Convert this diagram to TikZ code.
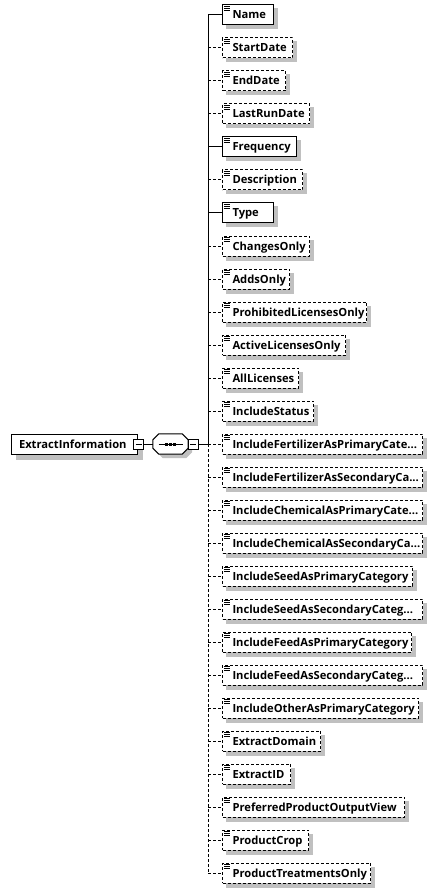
\documentclass[tikz,border=0pt]{standalone}
\usepackage{fontspec}
\setmainfont{Open Sans}
\usetikzlibrary{positioning,backgrounds}
\definecolor{shadowgray}{RGB}{192,192,192}
\newcommand{\elide}{...}
\newcommand{\octagonpath}[1]{([xshift=6pt]#1.north west) -- ([xshift=-6pt]#1.north east) -- ([yshift=-6pt]#1.north east) -- ([yshift=6pt]#1.south east) -- ([xshift=-6pt]#1.south east) -- ([xshift=6pt]#1.south west) -- ([yshift=6pt]#1.south west) -- ([yshift=-6pt]#1.north west) -- cycle}
\tikzset{
    xsdbase/.style={draw, line width=1pt, fill=white, font=\fontsize{11.2}{13}\selectfont\bfseries, text height=10pt, text depth=2pt, minimum height=20pt, align=left},
    elemicon/.style={path picture={\foreach \dy in {1.6,3.3,5} \draw[solid, line width=0.7pt] ([xshift=1.5pt, yshift=-\dy pt]path picture bounding box.north west) -- ++(6pt,0);}},
    elembox/.style={xsdbase, elemicon, anchor=west, inner xsep=10pt},
    elemreq/.style={elembox},
    elemopt/.style={elembox, dash pattern=on 3pt off 2pt},
    linkreq/.style={line width=1pt},
    linkopt/.style={line width=1pt, dash pattern=on 3pt off 2pt},
    shadowfill/.style={fill=shadowgray, draw=none},
    minusbox/.style={draw, line width=1pt, fill=white, minimum size=10pt, inner sep=0pt, path picture={\draw[line width=1pt] ([xshift=-3pt]path picture bounding box.center) -- ([xshift=3pt]path picture bounding box.center);}},
    seqframe/.style={minimum width=35pt, minimum height=20pt, inner sep=0pt}
}
\begin{document}
\begin{tikzpicture}[x=1pt, y=-1pt]
    \useasboundingbox (0,0) rectangle (438,893);
    % root element and sequence compositor
    \node[xsdbase, inner xsep=8pt, text width=110pt] (root) at (74,444) {ExtractInformation};
    \node[seqframe] (seq) at (170.5,444) {};
    \node[seqframe] (seqshadow) at (174.5,448) {};
    \begin{scope}[on background layer]
        \fill[shadowfill] ([shift={(5,5)}]root.north west) rectangle ([shift={(5,5)}]root.south east);
        \fill[shadowfill] \octagonpath{seqshadow};
    \end{scope}
    \filldraw[line width=1pt, fill=white] \octagonpath{seq};
    \node[minusbox] (rootminus) at ([xshift=1pt]root.east) {};
    \node[minusbox] (seqminus) at (193,444) {};
    \coordinate (spine) at (208,444);
    \draw[linkreq] (rootminus) -- (seq);
    \draw[linkreq] (seqminus) -- (spine);
    \draw[line width=1pt] ([xshift=-12pt]seq.center) -- ([xshift=12pt]seq.center);
    \foreach \d in {-4,0,4}
        \fill ([xshift=\d pt]seq.center) +(-1.2,-1.5) rectangle +(1.2,1.5);
    % child elements
    \foreach \lbl/\w/\kind [count=\i from 0, evaluate=\w as \tw using \w-20] in {Name/51/req, StartDate/70/opt, EndDate/63/opt, LastRunDate/87/opt, Frequency/74/req, Description/80/opt, Type/51/req, ChangesOnly/87/opt, AddsOnly/67/opt, ProhibitedLicensesOnly/144/opt, ActiveLicensesOnly/123/opt, AllLicenses/76/opt, IncludeStatus/91/opt, IncludeFertilizerAsPrimaryCate\elide/200/opt, IncludeFertilizerAsSecondaryCa\elide/200/opt, IncludeChemicalAsPrimaryCate\elide/200/opt, IncludeChemicalAsSecondaryCa\elide/200/opt, IncludeSeedAsPrimaryCategory/190/opt, IncludeSeedAsSecondaryCateg\elide/200/opt, IncludeFeedAsPrimaryCategory/189/opt, IncludeFeedAsSecondaryCateg\elide/200/opt, IncludeOtherAsPrimaryCategory/196/opt, ExtractDomain/98/opt, ExtractID/68/opt, PreferredProductOutputView/182/opt, ProductCrop/86/opt, ProductTreatmentsOnly/148/opt} {
        \node[elem\kind, text width=\tw pt] (el\i) at (222,{15+33*\i}) {\lbl};
        \begin{scope}[on background layer]
            \fill[shadowfill] ([shift={(4,4)}]el\i.north west) rectangle ([shift={(4,4)}]el\i.south east);
        \end{scope}
        \draw[link\kind] (el\i.west -| spine) -- (el\i.west);
    }
    \draw[linkreq] (el0.west -| spine) -- (spine);
    \draw[linkopt] (spine) -- (el26.west -| spine);
\end{tikzpicture}
\end{document}
